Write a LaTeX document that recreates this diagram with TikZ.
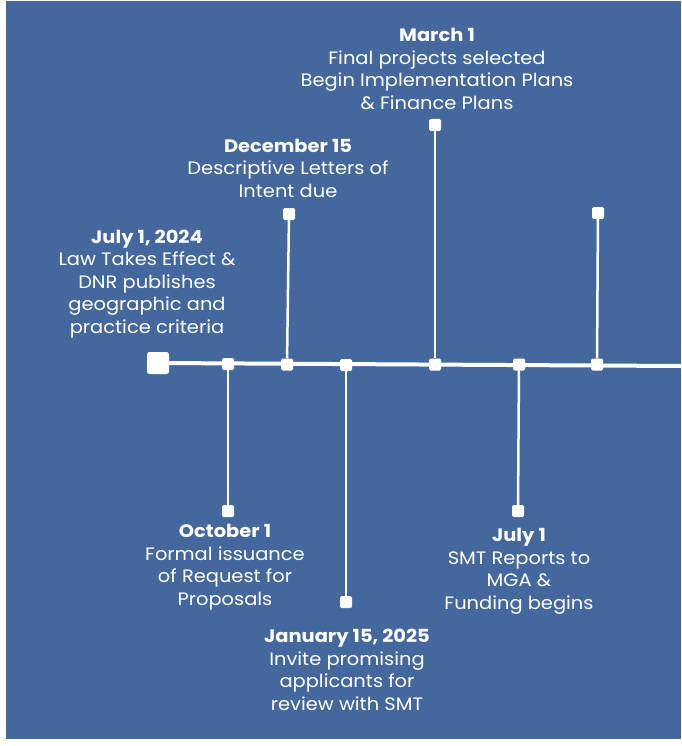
\documentclass[tikz,border=0pt]{standalone}
\usepackage{fontspec}
\setmainfont{Poppins}[FakeStretch=1.08]
\definecolor{bgblue}{RGB}{68,104,157}
\tikzset{
  x=1pt, y=-1pt,
  dot/.style={draw=none, fill=white, minimum size=12pt, inner sep=0pt, rounded corners=1.5pt},
  bigdot/.style={draw=none, fill=white, minimum size=22pt, inner sep=0pt, rounded corners=2.5pt},
  mainline/.style={draw=white, line width=4pt},
  stem/.style={draw=white, line width=2.5pt},
  label/.style={text=white, align=center, font=\fontsize{18}{22.5}\selectfont, inner sep=0pt}
}
\begin{document}
\begin{tikzpicture}
\useasboundingbox (0,0) rectangle (681,746);
\fill[white] (0,0) rectangle (681,746);
\fill[bgblue] (6,1) rectangle (681,739);
% main line
\coordinate (e) at (681,366);
\node[bigdot] (s) at (158,363) {};
\draw[mainline] (s.center) -- (e);
\node[dot] (a) at (228,364) {};
\node[dot] (b) at (287,364.5) {};
\node[dot] (c) at (346,365) {};
\node[dot] (d) at (435,364.5) {};
\node[dot] (f) at (519,364.5) {};
\node[dot] (g) at (597,364.5) {};
% stem ends
\node[dot] (a2) at (228,511) {};
\node[dot] (b2) at (289,214) {};
\node[dot] (c2) at (346,602) {};
\node[dot] (d2) at (435,125) {};
\node[dot] (f2) at (518,511) {};
\node[dot] (g2) at (598,213) {};
\draw[stem] (a) -- (a2);
\draw[stem] (b) -- (b2);
\draw[stem] (c) -- (c2);
\draw[stem] (d) -- (d2);
\draw[stem] (f) -- (f2);
\draw[stem] (g) -- (g2);
% labels
\node[label] (t1) at (147,284) {\textbf{July 1, 2024}\\Law Takes Effect \&\\DNR publishes\\geographic and\\practice criteria};
\node[label] (t2) at (288,168) {\textbf{December 15}\\Descriptive Letters of\\Intent due};
\node[label] (t3) at (437,69) {\textbf{March 1}\\Final projects selected\\Begin Implementation Plans\\\& Finance Plans};
\node[label] (t4) at (225,567) {\textbf{October 1}\\Formal issuance\\of Request for\\Proposals};
\node[label] (t5) at (519,571.5) {\textbf{July 1}\\SMT Reports to\\MGA \&\\Funding begins};
\node[label] (t6) at (347,670) {\textbf{January 15, 2025}\\Invite promising\\applicants for\\review with SMT};
\end{tikzpicture}
\end{document}
